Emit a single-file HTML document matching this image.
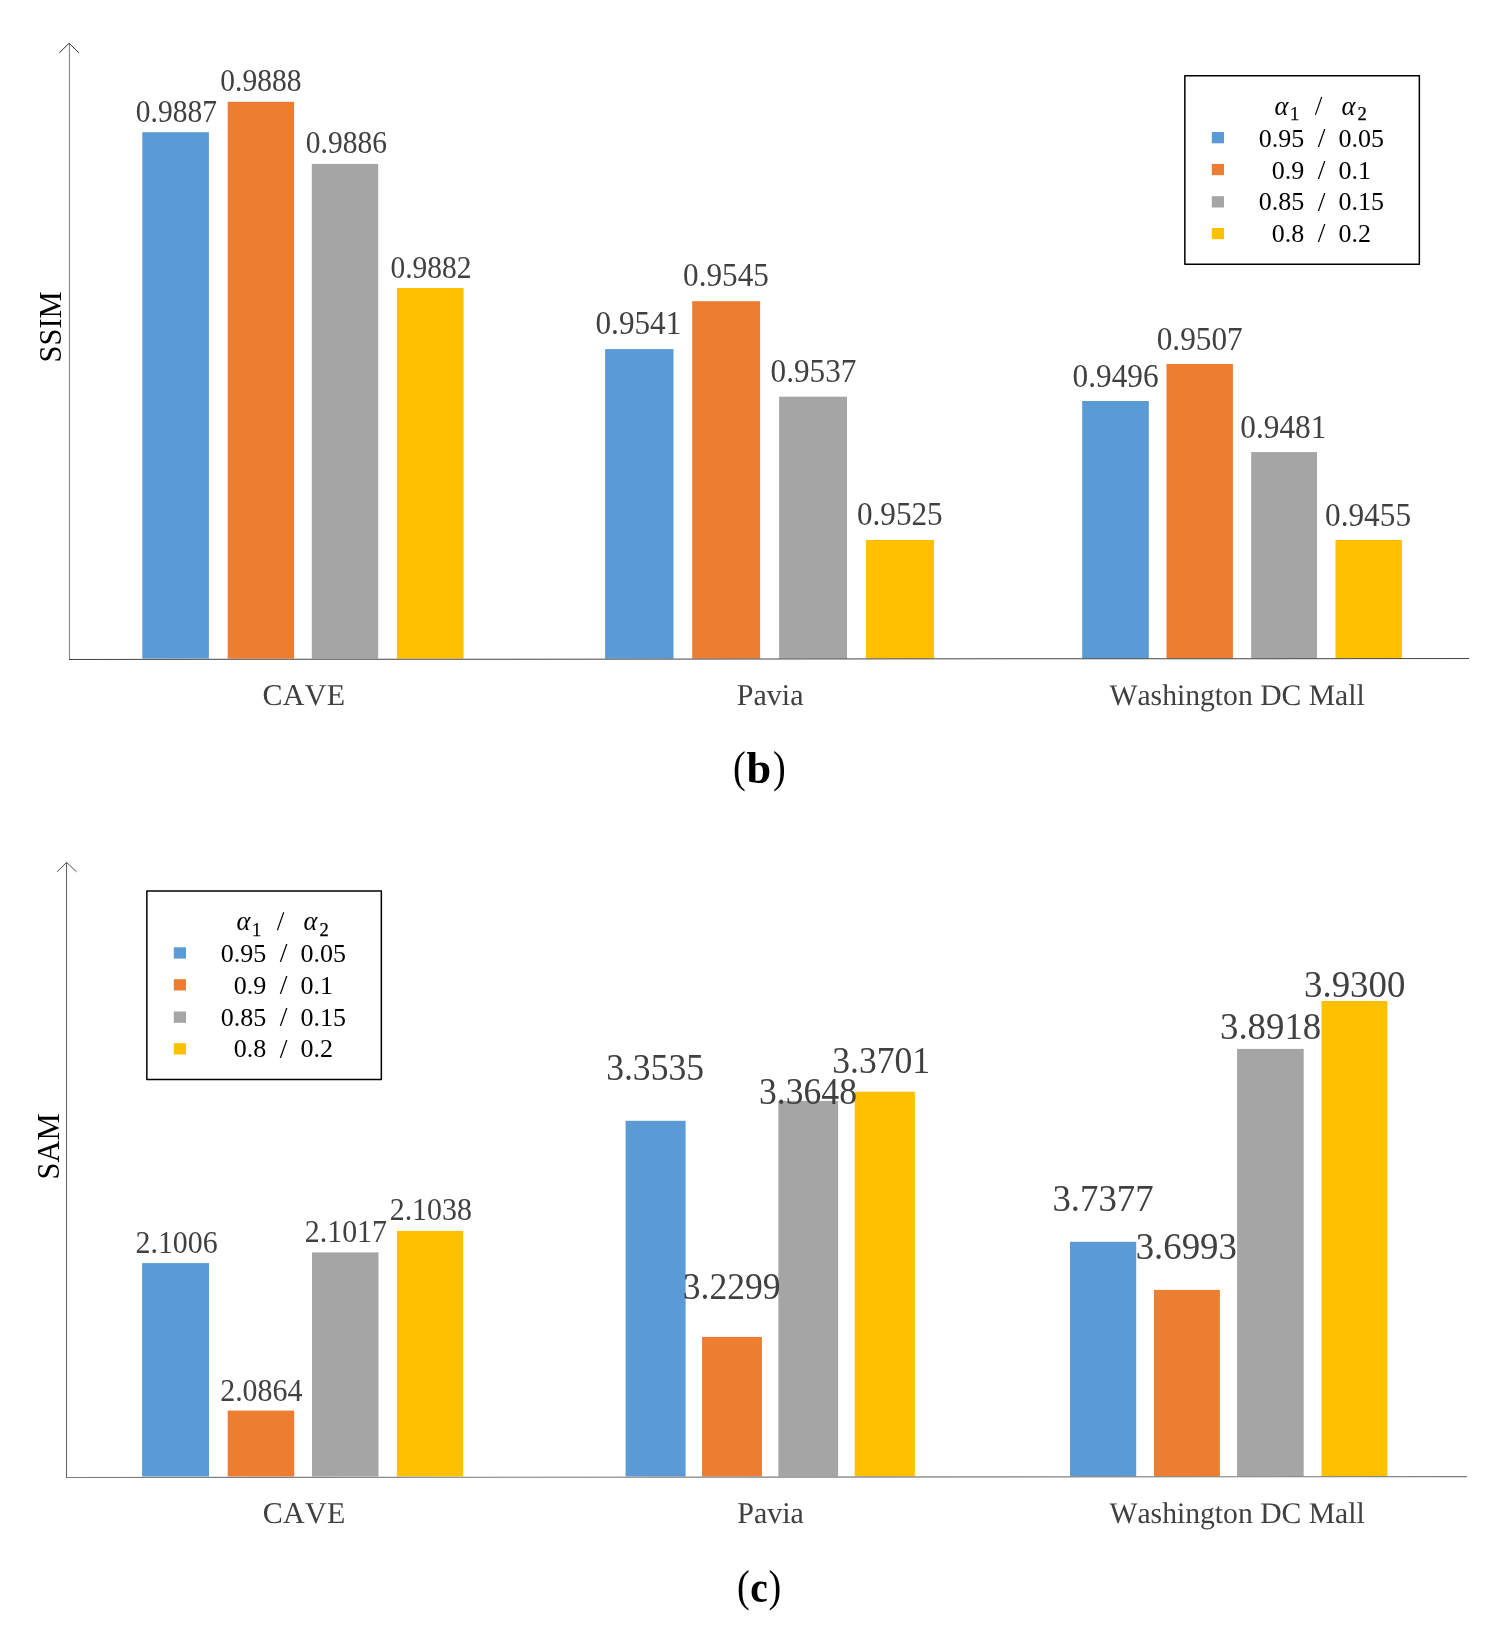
<!DOCTYPE html>
<html><head><meta charset="utf-8"><title>chart</title>
<style>
html,body{margin:0;padding:0;background:#fff;}
body{width:1500px;height:1649px;overflow:hidden;}
svg{display:block;position:absolute;left:0;top:0;will-change:transform;}
text{font-family:"Liberation Serif",serif;}
.dl{fill:#404040;}
.cat{fill:#404040;font-kerning:none;text-rendering:geometricPrecision;}
.lg{fill:#000;}
</style></head><body>
<svg width="1500" height="1649" viewBox="0 0 1500 1649">
<rect x="0" y="0" width="1500" height="1649" fill="#ffffff"/>

<rect x="142.3" y="132.2" width="66.6" height="526.4" fill="#5B9BD5"/>
<rect x="227.7" y="101.8" width="66.4" height="556.8" fill="#ED7D31"/>
<rect x="311.8" y="163.9" width="66.4" height="494.7" fill="#A5A5A5"/>
<rect x="396.9" y="288.0" width="66.7" height="370.6" fill="#FFC000"/>
<rect x="605.1" y="349.1" width="68.4" height="309.5" fill="#5B9BD5"/>
<rect x="692.2" y="301.2" width="67.9" height="357.4" fill="#ED7D31"/>
<rect x="779.1" y="396.7" width="67.9" height="261.9" fill="#A5A5A5"/>
<rect x="865.9" y="540.0" width="68.1" height="118.6" fill="#FFC000"/>
<rect x="1082.2" y="401.0" width="66.6" height="257.6" fill="#5B9BD5"/>
<rect x="1166.5" y="364.0" width="66.4" height="294.6" fill="#ED7D31"/>
<rect x="1251.2" y="452.1" width="65.8" height="206.5" fill="#A5A5A5"/>
<rect x="1335.5" y="540.0" width="66.4" height="118.6" fill="#FFC000"/>
<text class="dl" transform="translate(176.4 122.2) scale(1 1.1)" font-size="29.5" text-anchor="middle">0.9887</text>
<text class="dl" transform="translate(260.9 91.3) scale(1 1.1)" font-size="29.5" text-anchor="middle">0.9888</text>
<text class="dl" transform="translate(346.4 153.1) scale(1 1.1)" font-size="29.5" text-anchor="middle">0.9886</text>
<text class="dl" transform="translate(431.0 277.5) scale(1 1.1)" font-size="29.5" text-anchor="middle">0.9882</text>
<text class="dl" transform="translate(638.4 333.7) scale(1 1.056)" font-size="31.2" text-anchor="middle">0.9541</text>
<text class="dl" transform="translate(726.0 286.1) scale(1 1.056)" font-size="31.2" text-anchor="middle">0.9545</text>
<text class="dl" transform="translate(813.5 381.6) scale(1 1.056)" font-size="31.2" text-anchor="middle">0.9537</text>
<text class="dl" transform="translate(899.8 524.9) scale(1 1.056)" font-size="31.2" text-anchor="middle">0.9525</text>
<text class="dl" transform="translate(1115.6 387.2) scale(1 1.056)" font-size="31.3" text-anchor="middle">0.9496</text>
<text class="dl" transform="translate(1199.7 350.4) scale(1 1.056)" font-size="31.3" text-anchor="middle">0.9507</text>
<text class="dl" transform="translate(1283.3 437.8) scale(1 1.056)" font-size="31.3" text-anchor="middle">0.9481</text>
<text class="dl" transform="translate(1368.0 525.8) scale(1 1.056)" font-size="31.3" text-anchor="middle">0.9455</text>
<line x1="69.45" y1="43.6" x2="69.45" y2="659.6" stroke="#848484" stroke-width="1.05"/>
<line x1="69" y1="659.45" x2="1469" y2="658.55" stroke="#464646" stroke-width="1.05"/>
<path d="M59.3 52.8 L69.1 43.3 L78.9 52.8" fill="none" stroke="#2a2a2a" stroke-width="1" stroke-linejoin="round"/>
<text class="cat" transform="translate(303.9 705.25) scale(1 1.01)" font-size="30" letter-spacing="0.3" text-anchor="middle">CAVE</text>
<text class="cat" transform="translate(770.2 705.25) scale(1 1.01)" font-size="30" letter-spacing="0" text-anchor="middle">Pavia</text>
<text class="cat" transform="translate(1237.1 705.25) scale(1 1.01)" font-size="29.65" letter-spacing="0" text-anchor="middle">Washington DC Mall</text>
<text x="0" y="0" font-size="30.5" fill="#000" text-anchor="middle" transform="translate(61.45 326.9) rotate(-90)">SSIM</text>
<rect x="142.1" y="1263.1" width="66.9" height="213.4" fill="#5B9BD5"/>
<rect x="227.7" y="1410.6" width="66.5" height="65.9" fill="#ED7D31"/>
<rect x="312.0" y="1252.4" width="66.5" height="224.1" fill="#A5A5A5"/>
<rect x="396.9" y="1230.9" width="66.3" height="245.6" fill="#FFC000"/>
<rect x="625.6" y="1120.8" width="60.0" height="355.7" fill="#5B9BD5"/>
<rect x="702.1" y="1336.9" width="59.8" height="139.6" fill="#ED7D31"/>
<rect x="778.4" y="1100.9" width="59.7" height="375.6" fill="#A5A5A5"/>
<rect x="854.7" y="1091.7" width="60.2" height="384.8" fill="#FFC000"/>
<rect x="1070.0" y="1241.8" width="66.2" height="234.7" fill="#5B9BD5"/>
<rect x="1154.0" y="1289.9" width="65.9" height="186.6" fill="#ED7D31"/>
<rect x="1237.1" y="1048.9" width="66.6" height="427.6" fill="#A5A5A5"/>
<rect x="1321.5" y="1001.0" width="65.9" height="475.5" fill="#FFC000"/>
<text class="dl" transform="translate(176.6 1253.4) scale(1 1.08)" font-size="29.9" text-anchor="middle">2.1006</text>
<text class="dl" transform="translate(261.3 1400.6) scale(1 1.08)" font-size="29.9" text-anchor="middle">2.0864</text>
<text class="dl" transform="translate(345.9 1241.7) scale(1 1.08)" font-size="29.9" text-anchor="middle">2.1017</text>
<text class="dl" transform="translate(430.8 1220.3) scale(1 1.08)" font-size="29.9" text-anchor="middle">2.1038</text>
<text class="dl" transform="translate(655.1 1080.2) scale(1 1.045)" font-size="35.6" text-anchor="middle">3.3535</text>
<text class="dl" transform="translate(731.7 1299.3) scale(1 1.045)" font-size="35.6" text-anchor="middle">3.2299</text>
<text class="dl" transform="translate(808.0 1104.2) scale(1 1.045)" font-size="35.6" text-anchor="middle">3.3648</text>
<text class="dl" transform="translate(881.2 1072.8) scale(1 1.045)" font-size="35.6" text-anchor="middle">3.3701</text>
<text class="dl" transform="translate(1103.0 1211.3) scale(1 1.04)" font-size="36.8" text-anchor="middle">3.7377</text>
<text class="dl" transform="translate(1186.3 1259.3) scale(1 1.04)" font-size="36.8" text-anchor="middle">3.6993</text>
<text class="dl" transform="translate(1270.6 1039.1) scale(1 1.04)" font-size="36.8" text-anchor="middle">3.8918</text>
<text class="dl" transform="translate(1354.7 996.9) scale(1 1.04)" font-size="36.8" text-anchor="middle">3.9300</text>
<line x1="66.5" y1="862.6" x2="66.5" y2="1477.7" stroke="#626262" stroke-width="1.05"/>
<line x1="66" y1="1477.5" x2="1467" y2="1476.65" stroke="#7c7c7c" stroke-width="1.15"/>
<path d="M57.0 871.8 L66.6 862.4 L76.5 871.8" fill="none" stroke="#4a4a4a" stroke-width="1" stroke-linejoin="round"/>
<text class="cat" transform="translate(304.2 1523.0) scale(1 1.01)" font-size="30" letter-spacing="0.3" text-anchor="middle">CAVE</text>
<text class="cat" transform="translate(770.6 1523.0) scale(1 1.01)" font-size="30" letter-spacing="0" text-anchor="middle">Pavia</text>
<text class="cat" transform="translate(1237.1 1523.0) scale(1 1.01)" font-size="29.65" letter-spacing="0" text-anchor="middle">Washington DC Mall</text>
<text x="0" y="0" font-size="30.5" fill="#000" text-anchor="middle" transform="translate(58.7 1146.5) rotate(-90)">SAM</text>
<g transform="translate(0 0)">
<rect x="1184.85" y="75.75" width="234.5" height="188.55" fill="#fff" stroke="#000" stroke-width="1.5" stroke-linejoin="round"/>
<rect x="1211.8" y="132.0" width="12.2" height="11.3" fill="#5B9BD5"/>
<rect x="1211.8" y="163.9" width="12.2" height="11.3" fill="#ED7D31"/>
<rect x="1211.8" y="196.2" width="12.2" height="11.3" fill="#A5A5A5"/>
<rect x="1211.8" y="227.9" width="12.2" height="11.3" fill="#FFC000"/>
<text class="lg" x="1304.2" y="146.8" font-size="26" text-anchor="end">0.95</text>
<text class="lg" x="1321.5" y="147.0" font-size="27.6" text-anchor="middle">/</text>
<text class="lg" x="1338.6" y="146.8" font-size="26" text-anchor="start">0.05</text>
<text class="lg" x="1304.2" y="178.8" font-size="26" text-anchor="end">0.9</text>
<text class="lg" x="1321.5" y="179.0" font-size="27.6" text-anchor="middle">/</text>
<text class="lg" x="1338.6" y="178.8" font-size="26" text-anchor="start">0.1</text>
<text class="lg" x="1304.2" y="210.3" font-size="26" text-anchor="end">0.85</text>
<text class="lg" x="1321.5" y="210.5" font-size="27.6" text-anchor="middle">/</text>
<text class="lg" x="1338.6" y="210.3" font-size="26" text-anchor="start">0.15</text>
<text class="lg" x="1304.2" y="242.1" font-size="26" text-anchor="end">0.8</text>
<text class="lg" x="1321.5" y="242.29999999999998" font-size="27.6" text-anchor="middle">/</text>
<text class="lg" x="1338.6" y="242.1" font-size="26" text-anchor="start">0.2</text>
<text class="lg" x="1274.5" y="114.5" font-size="26.5" font-style="italic">α</text>
<text class="lg" x="1289.9" y="120.4" font-size="18.6" stroke="#000" stroke-width="0.25">1</text>
<path d="M1315.4 114.9 L1321.7 97.0" stroke="#000" stroke-width="1.15" fill="none"/>
<text class="lg" x="1341.6" y="114.5" font-size="26.5" font-style="italic">α</text>
<text class="lg" x="1357.4" y="120.4" font-size="18.6" stroke="#000" stroke-width="0.25">2</text>
</g>
<g transform="translate(-1038.0 815.3)">
<rect x="1184.85" y="75.75" width="234.5" height="188.55" fill="#fff" stroke="#000" stroke-width="1.5" stroke-linejoin="round"/>
<rect x="1211.8" y="132.0" width="12.2" height="11.3" fill="#5B9BD5"/>
<rect x="1211.8" y="163.9" width="12.2" height="11.3" fill="#ED7D31"/>
<rect x="1211.8" y="196.2" width="12.2" height="11.3" fill="#A5A5A5"/>
<rect x="1211.8" y="227.9" width="12.2" height="11.3" fill="#FFC000"/>
<text class="lg" x="1304.2" y="146.8" font-size="26" text-anchor="end">0.95</text>
<text class="lg" x="1321.5" y="147.0" font-size="27.6" text-anchor="middle">/</text>
<text class="lg" x="1338.6" y="146.8" font-size="26" text-anchor="start">0.05</text>
<text class="lg" x="1304.2" y="178.8" font-size="26" text-anchor="end">0.9</text>
<text class="lg" x="1321.5" y="179.0" font-size="27.6" text-anchor="middle">/</text>
<text class="lg" x="1338.6" y="178.8" font-size="26" text-anchor="start">0.1</text>
<text class="lg" x="1304.2" y="210.3" font-size="26" text-anchor="end">0.85</text>
<text class="lg" x="1321.5" y="210.5" font-size="27.6" text-anchor="middle">/</text>
<text class="lg" x="1338.6" y="210.3" font-size="26" text-anchor="start">0.15</text>
<text class="lg" x="1304.2" y="242.1" font-size="26" text-anchor="end">0.8</text>
<text class="lg" x="1321.5" y="242.29999999999998" font-size="27.6" text-anchor="middle">/</text>
<text class="lg" x="1338.6" y="242.1" font-size="26" text-anchor="start">0.2</text>
<text class="lg" x="1274.5" y="114.5" font-size="26.5" font-style="italic">α</text>
<text class="lg" x="1289.9" y="120.4" font-size="18.6" stroke="#000" stroke-width="0.25">1</text>
<path d="M1315.4 114.9 L1321.7 97.0" stroke="#000" stroke-width="1.15" fill="none"/>
<text class="lg" x="1341.6" y="114.5" font-size="26.5" font-style="italic">α</text>
<text class="lg" x="1357.4" y="120.4" font-size="18.6" stroke="#000" stroke-width="0.25">2</text>
</g>
<text transform="translate(733.1 781.8) scale(0.88 1)" font-size="43.5" fill="#000">(</text>
<text transform="translate(746.4 782.6999999999999) scale(1 1)" font-size="44.3" font-weight="bold" fill="#000">b</text>
<text transform="translate(772.9 781.8) scale(0.88 1)" font-size="43.5" fill="#000">)</text>
<text transform="translate(736.9 1601.2) scale(0.88 1)" font-size="43.5" fill="#000">(</text>
<text transform="translate(750.3 1602.1) scale(0.92 1.03)" font-size="43" font-weight="bold" fill="#000">c</text>
<text transform="translate(768.5 1601.2) scale(0.88 1)" font-size="43.5" fill="#000">)</text>
</svg>
</body></html>
